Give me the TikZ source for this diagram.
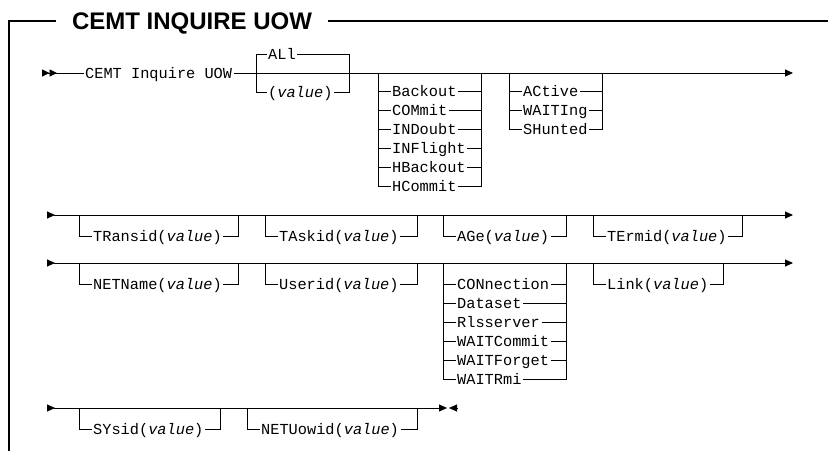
\documentclass[tikz,border=0pt]{standalone}
\usepackage{fontspec}
\setmainfont{Liberation Sans}
\setmonofont{Liberation Mono}
\usetikzlibrary{arrows.meta}
\newcommand{\railfont}{\fontsize{15.3}{18}\selectfont\ttfamily}
\newcommand{\val}{\textit{value}}
% optional keyword hanging below the main line
\newcommand{\railopt}[5]{%
  \coordinate (#1-tl) at (#2,#4);
  \coordinate (#1-bl) at (#2,#4+21);
  \coordinate (#1-br) at (#3,#4+21);
  \coordinate (#1-tr) at (#3,#4);
  \node[kw] (#1) at (#2+12.5,#4+21) {#5};
  \draw[rail] (#1-tl) -- (#1-bl) -- (#1) -- (#1-br) -- (#1-tr);
}
% optional choice of several keywords
\newcommand{\railchoice}[6]{%
  \coordinate (#1-l) at (#2,#4);
  \coordinate (#1-r) at (#3,#4);
  \foreach \txt [count=\n] in {#6} {
    \node[kw] (#1\n) at (#2+12.5,#5+19*\n-19) {\txt};
    \draw[rail] (#1-l) -- (#1-l |- #1\n) -- (#1\n) -- (#1\n -| #1-r) -- (#1-r);
  }
}

\begin{document}
\begin{tikzpicture}[x=1pt, y=-1pt,
  rail/.style={line width=0.9pt},
  frame/.style={line width=1.7pt},
  kw/.style={font=\railfont, anchor=west, inner xsep=1.5pt, inner ysep=0pt, text height=10pt, text depth=0pt},
  ttl/.style={font=\fontsize{24}{28}\selectfont\bfseries, inner xsep=16pt, inner ysep=0pt, text height=17.5pt, text depth=0pt},
  rowarr/.style={{Triangle[length=8pt,width=7pt,reversed]}-{Triangle[length=8pt,width=7pt]}},
  dblstart/.style={{Triangle[length=7.5pt,width=7pt,reversed]Triangle[length=7.5pt,width=7pt,reversed]}-},
  endarr/.style={-{Triangle[length=8pt,width=7pt]}},
  backarr/.style={{Triangle[length=8pt,width=7pt]}-}
]
\useasboundingbox (0,0) rectangle (828,451);

% frame and title
\node[ttl] (title) at (192,21) {CEMT INQUIRE UOW};
\coordinate (fr-bl) at (9,451);
\coordinate (fr-tl) at (9,21);
\coordinate (fr-tr) at (828,21);
\draw[frame] (fr-bl) -- (fr-tl) -- (title);
\draw[frame] (title) -- (fr-tr);

% row 1
\coordinate (r1s) at (42,73);
\coordinate (r1e) at (793,73);
\node[kw] (cemt) at (83.5,73) {CEMT Inquire UOW};
\draw[rail, dblstart] (r1s) -- (cemt);
\draw[rail, endarr] (cemt) -- (r1e);
\coordinate (all-tl) at (256,54);
\coordinate (all-bl) at (256,92);
\coordinate (all-tr) at (349,54);
\coordinate (all-br) at (349,92);
\node[kw] (all) at (266.5,54) {ALl};
\node[kw] (allv) at (266.5,92) {(\val)};
\draw[rail] (all-bl) -- (all-tl) -- (all) -- (all-tr) -- (all-br) -- (allv) -- (all-bl);
\railchoice{bk}{378}{481}{73}{91}{Backout,COMmit,INDoubt,INFlight,HBackout,HCommit}
\railchoice{act}{509}{602}{73}{91}{ACtive,WAITIng,SHunted}

% row 2
\coordinate (r2s) at (47,215);
\coordinate (r2e) at (793,215);
\draw[rail, rowarr] (r2s) -- (r2e);
\railopt{tran}{79}{238}{215}{TRansid(\val)}
\railopt{task}{265}{417}{215}{TAskid(\val)}
\railopt{age}{443}{566}{215}{AGe(\val)}
\railopt{term}{593}{742}{215}{TErmid(\val)}

% row 3
\coordinate (r3s) at (47,263);
\coordinate (r3e) at (793,263);
\draw[rail, rowarr] (r3s) -- (r3e);
\railopt{netn}{79}{238}{263}{NETName(\val)}
\railopt{user}{265}{417}{263}{Userid(\val)}
\railchoice{conn}{443}{566}{263}{284}{CONnection,Dataset,Rlsserver,WAITCommit,WAITForget,WAITRmi}
\railopt{link}{593}{723}{263}{Link(\val)}

% row 4
\coordinate (r4s) at (47,408);
\coordinate (r4e) at (447,408);
\coordinate (fin-a) at (449,408);
\coordinate (fin-b) at (457,408);
\draw[rail, rowarr] (r4s) -- (r4e);
\draw[rail, backarr] (fin-a) -- (fin-b);
\railopt{sys}{79}{220}{408}{SYsid(\val)}
\railopt{netu}{247}{417}{408}{NETUowid(\val)}
\end{tikzpicture}
\end{document}
